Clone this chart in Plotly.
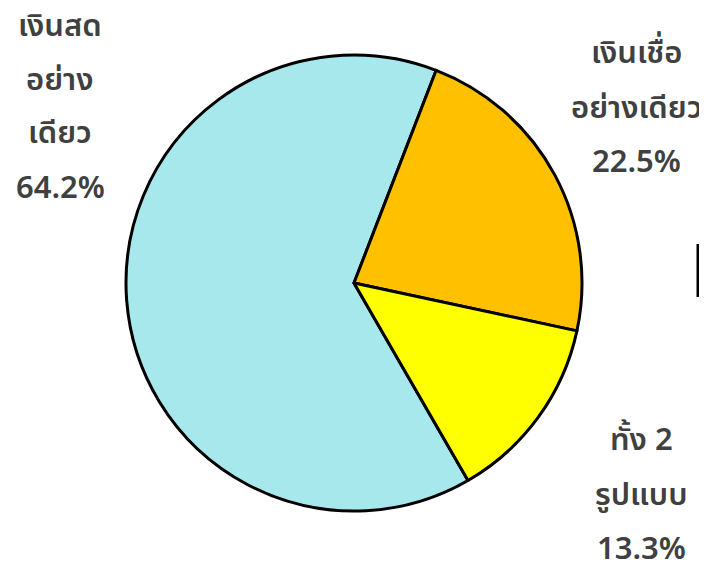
import plotly.graph_objects as go

categories = ["เงินสด<br>อย่าง<br>เดียว", "เงินเชื่อ<br>อย่างเดียว", "ทั้ง 2<br>รูปแบบ"]
label_lines = [["เงินสด", "อย่าง", "เดียว"], ["เงินเชื่อ", "อย่างเดียว"], ["ทั้ง 2", "รูปแบบ"]]
values = [64.2, 22.5, 13.3]
colors = ["#A7E8EC", "#FFC000", "#FFFF00"]

W, H = 707, 565
OFF = 8  # page body margin offset
cx, cy, r = 354 - OFF, 283 - OFF, 228

fig = go.Figure(go.Pie(
    labels=categories,
    values=values,
    sort=False,
    direction="clockwise",
    rotation=150,
    marker=dict(colors=colors, line=dict(color="black", width=3)),
    textinfo="none",
    hoverinfo="label+percent",
    domain=dict(x=[(cx - r) / W, (cx + r) / W], y=[(H - cy - r) / H, (H - cy + r) / H]),
    showlegend=False,
))

# label positions (page pixel centers of first line) and line spacing
label_pos = [(60, 26), (636, 54), (641, 441)]
spacing = 54
font = dict(family="Noto Sans Thai, Noto Sans, sans-serif", size=31, color="#404040", weight=600)
for lines, v, (x0, y0) in zip(label_lines, values, label_pos):
    all_lines = lines + [f"{v:.1f}%"]
    for i, t in enumerate(all_lines):
        fig.add_annotation(
            x=(x0 - OFF) / W, y=1 - (y0 - OFF + i * spacing) / H, xref="paper", yref="paper",
            text=t, showarrow=False, font=font,
            xanchor="center", yanchor="middle",
        )

fig.add_shape(type="line", xref="paper", yref="paper",
              x0=(698 - OFF) / W, x1=(698 - OFF) / W, y0=1 - (244 - OFF) / H, y1=1 - (297 - OFF) / H,
              line=dict(color="black", width=3), layer="above")

fig.update_layout(
    width=W, height=H,
    margin=dict(l=0, r=0, t=0, b=0),
    paper_bgcolor="white", plot_bgcolor="white",
)

fig.write_html("out.html")
